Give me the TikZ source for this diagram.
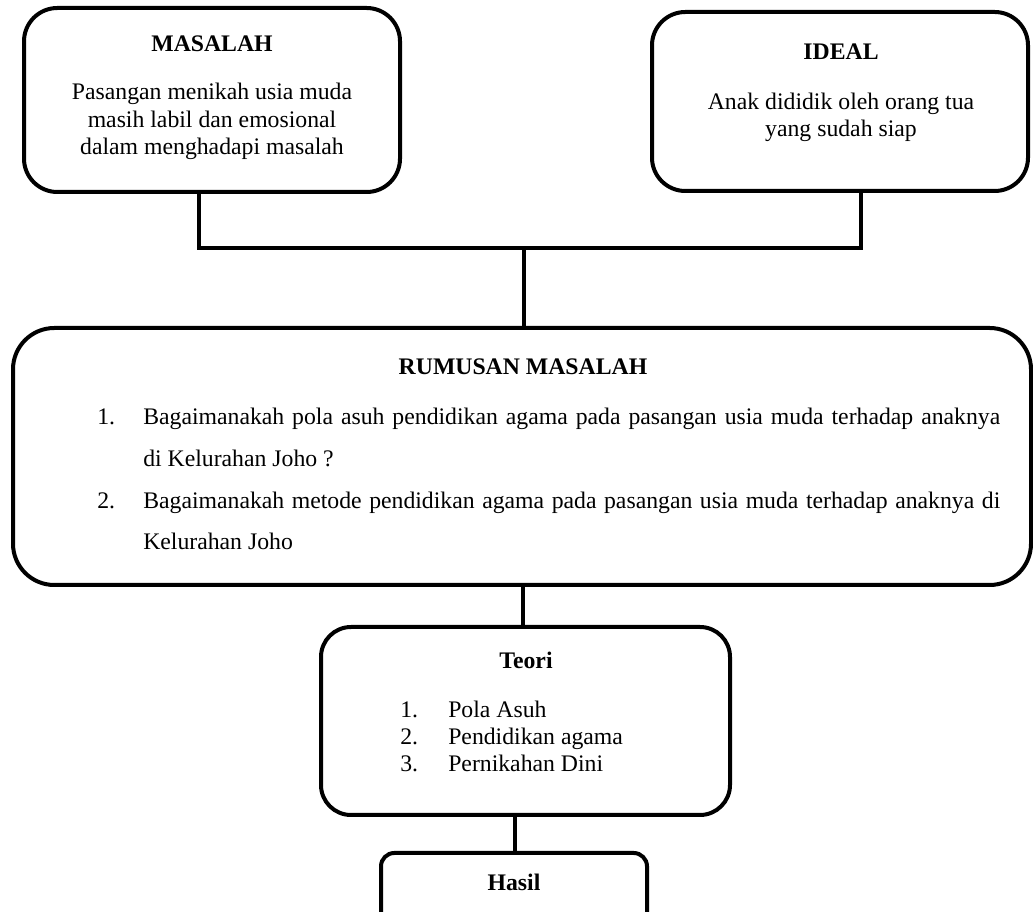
\documentclass[tikz,border=0pt]{standalone}
\usepackage{fontspec}
\setmainfont{Liberation Serif}
\begin{document}
\begin{tikzpicture}[x=0.75pt,y=-0.75pt,
  box/.style={draw=black,line width=3pt,rectangle,inner sep=0pt},
  conn/.style={draw=black,line width=2.8pt},
  txt/.style={anchor=base,inner sep=0pt,font=\fontsize{17.8pt}{21pt}\selectfont},
  txtl/.style={anchor=base west,inner sep=0pt,font=\fontsize{17.8pt}{21pt}\selectfont}]
\useasboundingbox (0,0) rectangle (1033,912);
\clip (0,0) rectangle (1033,912);
% boxes
\node[box,rounded corners=25pt,minimum width=282pt,minimum height=138pt] (masalah) at (212,100) {};
\node[box,rounded corners=25pt,minimum width=282pt,minimum height=134.25pt] (ideal) at (840,101.5) {};
\node[box,rounded corners=31pt,minimum width=763.5pt,minimum height=192.75pt] (rumusan) at (522,456.5) {};
\node[box,rounded corners=22.5pt,minimum width=306.75pt,minimum height=141pt] (teori) at (525.5,721) {};
\node[box,rounded corners=10pt,minimum width=199.5pt,minimum height=57.75pt] (hasil) at (514,891.5) {};
% MASALAH texts
\node[txt] (mh) at (212,52) {\textbf{MASALAH}};
\node[txt] (m1) at (212,100) {Pasangan menikah usia muda};
\node[txt] (m2) at (212,128) {masih labil dan emosional};
\node[txt] (m3) at (212,155) {dalam menghadapi masalah};
% IDEAL texts
\node[txt] (ih) at (841,60) {\textbf{IDEAL}};
\node[txt] (i1) at (841,110) {Anak dididik oleh orang tua};
\node[txt] (i2) at (841,137) {yang sudah siap};
% RUMUSAN texts
\node[txt] (rh) at (523,375) {\textbf{RUMUSAN MASALAH}};
\node[txtl] (rn1) at (97,425) {1.};
\node[txtl] (r1) at (143,425) {\makebox[642.75pt][s]{Bagaimanakah pola asuh pendidikan agama pada pasangan usia muda terhadap anaknya}};
\node[txtl] (r1b) at (143,467) {di Kelurahan Joho ?};
\node[txtl] (rn2) at (97,509) {2.};
\node[txtl] (r2) at (143,509) {\makebox[642.75pt][s]{Bagaimanakah metode pendidikan agama pada pasangan usia muda terhadap anaknya di}};
\node[txtl] (r2b) at (143,550) {Kelurahan Joho};
% Teori texts
\node[txt] (th) at (526,669) {\textbf{Teori}};
\node[txtl] (tn1) at (400,718) {1.};
\node[txtl] (t1) at (448,718) {Pola Asuh};
\node[txtl] (tn2) at (400,745) {2.};
\node[txtl] (t2) at (448,745) {Pendidikan agama};
\node[txtl] (tn3) at (400,772) {3.};
\node[txtl] (t3) at (448,772) {Pernikahan Dini};
% Hasil text
\node[txt] (hh) at (514,891) {\textbf{Hasil}};
% connectors
\coordinate (jl) at (199,248);
\coordinate (jr) at (861,248);
\coordinate (jc) at (524,248);
\coordinate (c2) at (523,0);
\coordinate (c3) at (515,0);
\draw[conn] (masalah.south -| jl) -- (jl) -- (jr) -- (ideal.south -| jr);
\draw[conn] (jc) -- (rumusan.north -| jc);
\draw[conn] (rumusan.south -| c2) -- (teori.north -| c2);
\draw[conn] (teori.south -| c3) -- (hasil.north -| c3);
\end{tikzpicture}
\end{document}
